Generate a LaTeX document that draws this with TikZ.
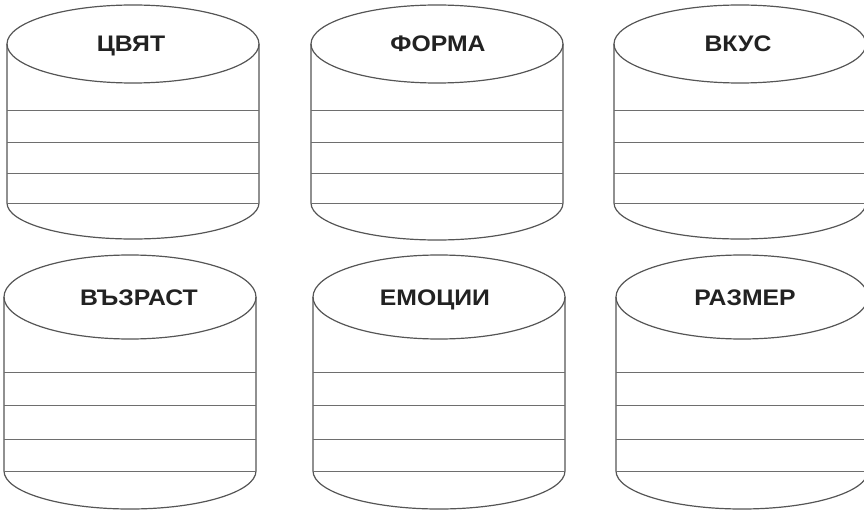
\documentclass[tikz,border=0pt]{standalone}
\usepackage{fontspec}
\setmainfont{Liberation Sans}[FakeStretch = 1.1]
\usepackage{tikz}
\definecolor{bordo}{HTML}{555555}
\definecolor{testo}{HTML}{222222}
% #1 nome, #2 cx, #3 cy, #4 ry sopra, #5 fondo, #6 ry sotto, #7 righe, #8 x testo, #9 testo
\newcommand{\cilindro}[9]{
    \draw[cil] (#2,#3) ellipse [x radius = \rx, y radius = #4];
    \draw[cil] (#2-\rx,#3) -- (#2-\rx,#5) arc[start angle = 180, end angle = 0, x radius = \rx, y radius = #6] -- (#2+\rx,#3);
    \foreach \yy in {#7,#5}
        \draw[riga] (#2-\rx,\yy) -- (#2+\rx,\yy);
    \node[etichetta] (#1) at (#8,#3+8) {#9};
}

\begin{document}
\begin{tikzpicture}[x = 1pt, y = -1pt,
    cil/.style = {draw = bordo, line width = 1.2pt},
    riga/.style = {draw = bordo!85, line width = 1pt},
    etichetta/.style = {anchor = base, text = testo, font = \bfseries\fontsize{22.5}{26}\selectfont, inner sep = 0pt}]
    % Parametri
    \pgfmathsetmacro{\rx}{126}
    \useasboundingbox (0,0) rectangle (864,513);
    % Prima fila
    \cilindro{cvyat}{133}{44}{39}{203}{36}{111,143,174}{131}{ЦВЯТ}
    \cilindro{forma}{437}{44}{39}{203}{37}{111,143,174}{438}{ФОРМА}
    \cilindro{vkus}{740}{44}{39}{203}{36}{111,143,174}{738}{ВКУС}
    % Seconda fila
    \cilindro{vazrast}{130}{297}{42}{471}{38}{372,405,439}{139}{ВЪЗРАСТ}
    \cilindro{emocii}{439}{297}{42}{471}{38}{372,405,439}{435}{ЕМОЦИИ}
    \cilindro{razmer}{742}{297}{42}{471}{38}{372,405,439}{745}{РАЗМЕР}
\end{tikzpicture}
\end{document}
